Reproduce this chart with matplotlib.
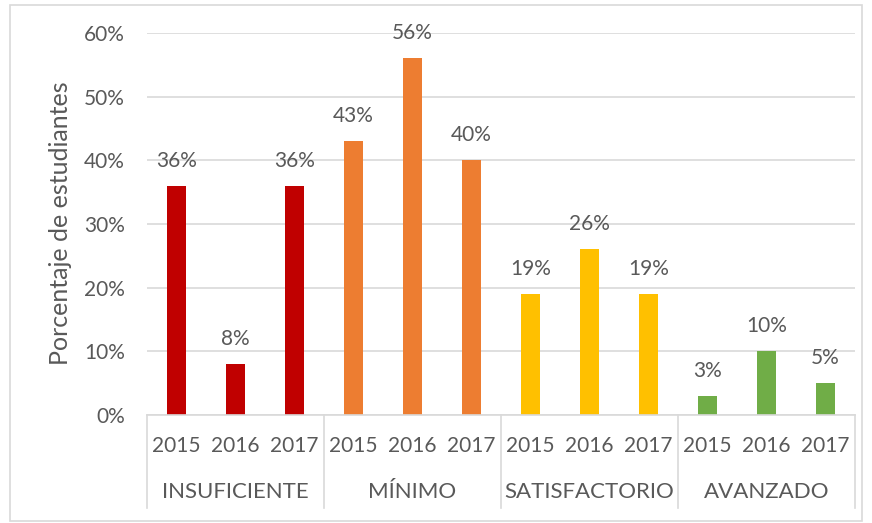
import matplotlib.pyplot as plt
from matplotlib.patches import Rectangle
from matplotlib.lines import Line2D

niveles = ['INSUFICIENTE', 'MÍNIMO', 'SATISFACTORIO', 'AVANZADO']
anios = ['2015', '2016', '2017']
valores = [
    [36, 8, 36],
    [43, 56, 40],
    [19, 26, 19],
    [3, 10, 5],
]
colores = ['#C00000', '#ED7D31', '#FFC000', '#70AD47']

gris = '#595959'
linea = '#D9D9D9'
fs = 15
plt.rcParams['font.family'] = ['Lato', 'DejaVu Sans']

W, H = 872, 523
fig = plt.figure(figsize=(W / 100, H / 100), dpi=100)
ax = fig.add_axes([147 / W, 1 - 415 / H, 708 / W, 382 / H])
px = 0.6 / 382  # data units per pixel on y

# outer chart border
fig.patches.append(Rectangle((10 / W, 2 / H), 852 / W, 516 / H, transform=fig.transFigure,
                             fill=False, edgecolor=linea, linewidth=1.2))

n = len(anios)
for g, (nivel, vals, col) in enumerate(zip(niveles, valores, colores)):
    xs = [g * n + i + 0.5 for i in range(n)]
    ax.bar(xs, [v / 100 for v in vals], width=0.33, color=col, zorder=3)
    for x, v in zip(xs, vals):
        ax.annotate(f'{v}%', (x, v / 100), xytext=(0, 18), textcoords='offset points',
                    ha='center', va='center', fontsize=fs, color=gris, annotation_clip=False)
    for x, a in zip(xs, anios):
        ax.text(x, -31 * px, a, ha='center', va='center', fontsize=fs, color=gris)
    ax.text(g * n + n / 2, -77 * px, nivel, ha='center', va='center',
            fontsize=16, color=gris)

# group separators below the axis
for k in range(len(niveles) + 1):
    ax.add_line(Line2D([k * n, k * n], [0, -93 * px], color=linea, linewidth=1.2,
                       clip_on=False))

ax.set_xlim(0, len(niveles) * n)
ax.set_ylim(0, 0.6)
ax.set_yticks([i / 10 for i in range(7)])
ax.set_yticklabels([f'{i * 10}%' for i in range(7)])
ax.tick_params(axis='y', length=0, pad=16, labelsize=fs, labelcolor=gris)
ax.set_xticks([])
ax.grid(axis='y', color=linea, linewidth=1.2, zorder=0)
for s in ['top', 'right', 'left']:
    ax.spines[s].set_visible(False)
ax.spines['bottom'].set_color(linea)
ax.spines['bottom'].set_linewidth(1.2)
ax.spines['bottom'].set_zorder(4)

fig.text(60 / W, 1 - 223 / H, 'Porcentaje de estudiantes', rotation=90, ha='center',
         va='center', fontsize=18, color=gris)

fig.savefig('out.png', dpi=100)
